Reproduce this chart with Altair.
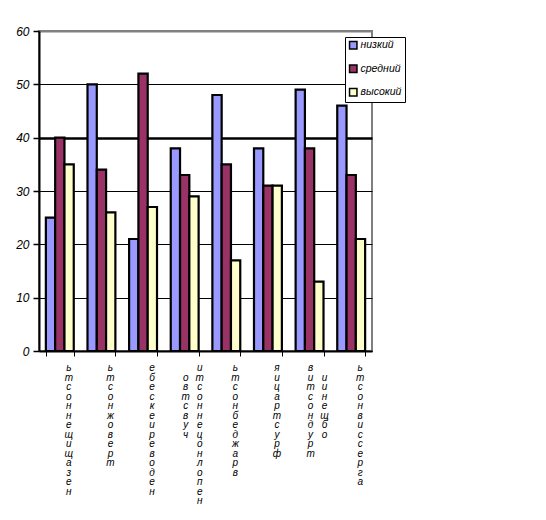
import altair as alt
import pandas as pd

categories = [
    "незащищенность",
    "тревожность",
    "недоверие к себе",
    "чувство\nнеполноценности",
    "враждебность",
    "фрустрация",
    "трудности в\nобщении",
    "агрессивность",
]
series = ["низкий", "средний", "высокий"]
low = [25, 50, 21, 38, 48, 38, 49, 46]
mid = [40, 34, 52, 33, 35, 31, 38, 33]
high = [35, 26, 27, 29, 17, 31, 13, 21]
colors = ["#9999FF", "#993366", "#FFFFCC"]
y_ticks = [0, 10, 20, 30, 40, 50, 60]

FONT = "Liberation Sans Narrow, Liberation Sans, sans-serif"

rows = []
for i, c in enumerate(categories):
    for s, vals in zip(series, [low, mid, high]):
        rows.append({"cat": c, "series": s, "value": vals[i]})
bars_df = pd.DataFrame(rows)


def stack(word):
    chars = [ch for ch in word if ch != " "]
    return list(reversed(chars))


lab_rows = []
for c in categories:
    parts = c.split("\n")
    stacks = [stack(p) for p in parts]
    n = max(len(s) for s in stacks)
    texts = []
    for s in stacks:
        pad = int(round((n - len(s)) / 2))
        texts.append("\n".join(["\u00a0"] * pad + s))
    lab_rows.append({
        "cat": c,
        "s1": texts[0],
        "s2": texts[1] if len(texts) > 1 else "",
        "two": len(texts) > 1,
    })
labels_df = pd.DataFrame(lab_rows)

x_scale = alt.Scale(paddingInner=0.33, paddingOuter=0.165)
x_axis = alt.Axis(labels=False, title=None, tickBand="extent", tickSize=5,
                  tickColor="black", tickWidth=1, domainColor="black",
                  domainWidth=2, grid=False)
x_enc = alt.X("cat:N", sort=categories, scale=x_scale, axis=x_axis)

y_axis = alt.Axis(
    values=y_ticks, grid=True, tickSize=6, labelPadding=4,
    labelFontStyle="italic", labelFont=FONT, labelFontSize=12,
    labelColor="black", domainColor="black", domainWidth=2,
    tickColor="black", tickWidth=1.5, title=None,
    gridColor={"condition": {"test": "datum.value == 60", "value": "#808080"}, "value": "black"},
    gridWidth={"condition": [{"test": "datum.value == 40", "value": 2.5},
                             {"test": "datum.value == 60", "value": 2}], "value": 1},
    minExtent=26, maxExtent=26,
)

bars = alt.Chart(bars_df).mark_bar(stroke="black", strokeWidth=2.2).encode(
    x=x_enc,
    xOffset=alt.XOffset("series:N", sort=series),
    y=alt.Y("value:Q", scale=alt.Scale(domain=[0, 60], nice=False), axis=y_axis),
    color=alt.Color(
        "series:N",
        sort=series,
        scale=alt.Scale(domain=series, range=colors),
        legend=alt.Legend(
            title=None, orient="none", legendX=306, legendY=6,
            strokeColor="black", fillColor="white", padding=3,
            symbolType="square", symbolSize=55, symbolStrokeColor="black",
            symbolStrokeWidth=1.5, labelFontStyle="italic",
            labelFont=FONT, labelFontSize=10.5, labelColor="black",
            rowPadding=9.5, labelOffset=2,
        ),
    ),
)

text_props = dict(align="center", baseline="top", lineBreak="\n", lineHeight=9.5,
                  fontSize=10, fontStyle="italic", font=FONT, color="black")

single = alt.Chart(labels_df).transform_filter("!datum.two").mark_text(dx=9, **text_props).encode(
    x=x_enc, y=alt.value(332), text="s1:N")
left = alt.Chart(labels_df).transform_filter("datum.two").mark_text(dx=1, **text_props).encode(
    x=x_enc, y=alt.value(332), text="s1:N")
right = alt.Chart(labels_df).transform_filter("datum.two").mark_text(dx=15, **text_props).encode(
    x=x_enc, y=alt.value(332), text="s2:N")

chart = alt.layer(bars, single, left, right).properties(
    width=333, height=320,
    padding={"left": 5, "top": 17, "right": 5, "bottom": 5},
    background="white",
).configure_view(stroke="#808080", strokeWidth=2)

chart.save("out.html", embed_options={"renderer": "svg", "actions": False})
